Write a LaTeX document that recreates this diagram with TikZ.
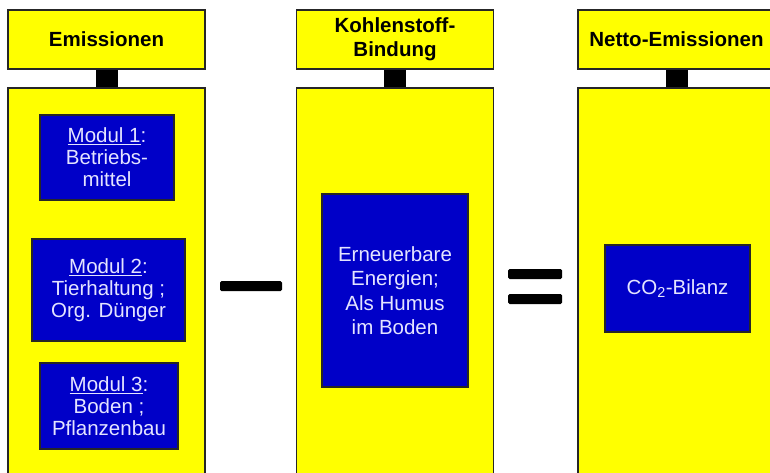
\documentclass[tikz,border=0pt]{standalone}
\usepackage{fontspec}
\setmainfont{Liberation Sans}
\usepackage{tikz}

\definecolor{schild}{RGB}{255,255,0}
\definecolor{modul}{RGB}{0,0,200}
\definecolor{schrift}{RGB}{228,228,255}

\tikzset{
	kopf/.style={draw=black!85,line width=1.6pt,fill=schild,inner sep=0pt,minimum width=197pt,minimum height=59pt,align=center,font=\fontsize{20.5}{24}\selectfont\bfseries},
	tafel/.style={draw=black!85,line width=1.6pt,fill=schild,inner sep=0pt,minimum width=197pt,minimum height=392pt},
	modulbox/.style={draw=black!85,line width=1.4pt,fill=modul,text=schrift,inner sep=0pt,align=center,font=\fontsize{20.5}{22}\selectfont},
	pfosten/.style={line width=22pt,black},
	balken/.style={fill=black,inner sep=0pt,rounded corners=1.5pt}
}

\begin{document}
\begin{tikzpicture}[x=1pt,y=-1pt]
			\useasboundingbox (0,0) rectangle (770,472);
			\clip (0,0) rectangle (770,472);
			% Kopfschilder
			\node[kopf] (h1) at (106.5,39.5) {Emissionen};
			\node[kopf] (h2) at (395,39.5) {Kohlenstoff-\\Bindung};
			\node[kopf] (h3) at (676.5,39.5) {Netto-Emissionen};
			% Tafeln
			\node[tafel] (t1) at (106.5,284) {};
			\node[tafel] (t2) at (395,284) {};
			\node[tafel] (t3) at (676.5,284) {};
			\draw[pfosten] (h1.south) -- (t1.north);
			\draw[pfosten] (h2.south) -- (t2.north);
			\draw[pfosten] (h3.south) -- (t3.north);
			% Module
			\node[modulbox,minimum width=134pt,minimum height=85pt] (m1) at (107,157.5) {\underline{Modul 1}:\\Betriebs-\\mittel};
			\node[modulbox,minimum width=153pt,minimum height=102pt] (m2) at (108.5,290) {\underline{Modul 2}:\\Tierhaltung ;\\Org. Dünger};
			\node[modulbox,minimum width=138pt,minimum height=86pt] (m3) at (109,406) {\underline{Modul 3}:\\Boden ;\\Pflanzenbau};
			\node[modulbox,minimum width=146pt,minimum height=193pt,font=\fontsize{20.5}{24.5}\selectfont] (ee) at (395,290.5) {Erneuerbare\\Energien;\\Als Humus\\im Boden};
			\node[modulbox,minimum width=145pt,minimum height=87pt] (co2) at (677.5,288.5) {CO\textsubscript{2}-Bilanz};
			% Rechenzeichen
			\node[balken,minimum width=62pt,minimum height=10pt] (minus) at (251,286) {};
			\node[balken,minimum width=54pt,minimum height=10pt] (gl1) at (535,274) {};
			\node[balken,minimum width=54pt,minimum height=10pt] (gl2) at (535,299) {};
\end{tikzpicture}
\end{document}
